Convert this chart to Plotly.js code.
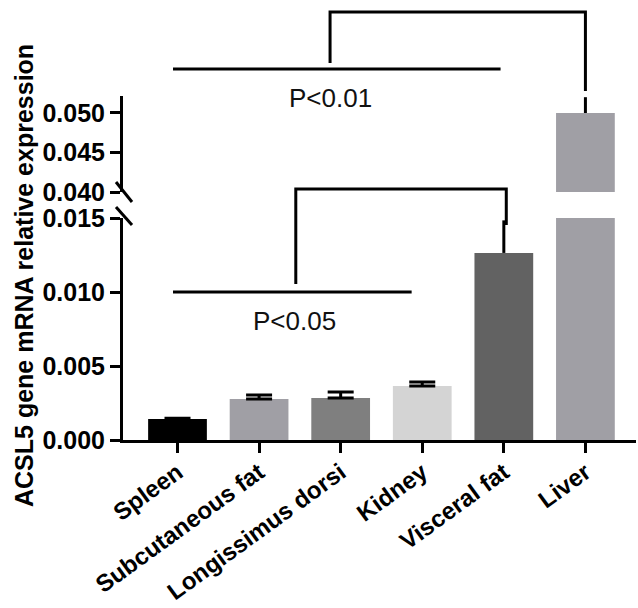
<!DOCTYPE html>
<html>
<head>
<meta charset="utf-8">
<script src="https://cdn.plot.ly/plotly-3.0.1.min.js"></script>
<style>html,body{margin:0;padding:0;background:#fff;}#chart{width:638px;height:608px;}</style>
</head>
<body>
<div id="chart"></div>
<script>
// ---- data ----
var categories = ['Spleen', 'Subcutaneous fat', 'Longissimus dorsi', 'Kidney', 'Visceral fat', 'Liver'];
var means = [0.00142, 0.00277, 0.00284, 0.00365, 0.01264, 0.0500];
var sems = [0.00005, 0.00027, 0.00040, 0.00027, 0.0022, 0.0020];
var colors = ['#000000', '#a09fa5', '#7f7f7f', '#d4d4d4', '#626262', '#a09fa5'];
var lowerTicks = [0, 0.005, 0.010, 0.015];
var upperTicks = [0.040, 0.045, 0.050];
var pLabels = ['P<0.01', 'P<0.05'];
var yTitle = 'ACSL5 gene mRNA relative expression';

// ---- layout helpers ----
var W = 638, H = 608, mL = 123, mR = 2, mT = 10, mB = 168;
var plotH = H - mT - mB, plotW = W - mL - mR;
function py(p) { return (H - mB - p) / plotH; }      // pixel y -> paper
function px(p) { return (p - mL) / plotW; }          // pixel x -> paper

var font = 'Arial, "Liberation Sans", Helvetica, sans-serif';

function barTrace(idx, yaxis, capWidth) {
  return {
    type: 'bar',
    x: idx.map(function (i) { return categories[i]; }),
    y: idx.map(function (i) { return means[i]; }),
    marker: { color: idx.map(function (i) { return colors[i]; }), line: { width: 0 } },
    width: 0.72,
    yaxis: yaxis,
    error_y: {
      type: 'data', symmetric: false,
      array: idx.map(function (i) { return sems[i]; }),
      arrayminus: idx.map(function () { return 0; }),
      color: '#000', thickness: 3, width: capWidth
    },
    hoverinfo: 'x+y',
    showlegend: false
  };
}

var data = [
  barTrace([0, 1, 2, 3], 'y', 13),
  barTrace([4, 5], 'y', 0),
  barTrace([5], 'y2', 0)
];

var blk = { color: '#000', width: 3 };
var shapes = [
  // P<0.01 bracket
  { type: 'line', xref: 'x', yref: 'paper', x0: -0.055, x1: 3.96, y0: py(69), y1: py(69), line: blk },
  { type: 'path', xref: 'x', yref: 'paper',
    path: 'M 1.87,' + py(63) + ' L 1.87,' + py(12) + ' L 5.0,' + py(12) + ' L 5.0,' + py(91), line: blk },
  // P<0.05 bracket
  { type: 'line', xref: 'x', yref: 'paper', x0: -0.055, x1: 2.87, y0: py(292), y1: py(292), line: blk },
  { type: 'path', xref: 'x', yref: 'paper',
    path: 'M 1.45,' + py(284) + ' L 1.45,' + py(189) + ' L 4.03,' + py(189) + ' L 4.03,' + py(225), line: blk },
  // axis break marks
  { type: 'line', xref: 'paper', yref: 'paper', x0: px(116), x1: px(132), y0: py(182), y1: py(202), line: blk },
  { type: 'line', xref: 'paper', yref: 'paper', x0: px(116), x1: px(132), y0: py(207), y1: py(225), line: blk }
];

var annotations = [
  { xref: 'x', yref: 'paper', x: 1.87, y: py(98), xanchor: 'center', yanchor: 'middle',
    text: pLabels[0], showarrow: false, font: { family: font, size: 26, color: '#111' } },
  { xref: 'x', yref: 'paper', x: 1.43, y: py(321), xanchor: 'center', yanchor: 'middle',
    text: pLabels[1], showarrow: false, font: { family: font, size: 26, color: '#111' } },
  { xref: 'paper', yref: 'paper', x: px(24), y: py(276), xanchor: 'center', yanchor: 'middle',
    text: yTitle, showarrow: false, textangle: -90,
    font: { family: font, size: 25, color: '#000', weight: 'bold' } }
];

var tickFont = { family: font, size: 25, color: '#000', weight: 'bold' };
var xTickFont = { family: font, size: 24, color: '#000', weight: 'bold' };

var layout = {
  width: W, height: H,
  margin: { l: mL, r: mR, t: mT, b: mB, pad: 0 },
  paper_bgcolor: '#fff', plot_bgcolor: '#fff',
  barmode: 'overlay',
  xaxis: {
    type: 'category', range: [-0.668, 5.62],
    showline: true, linecolor: '#000', linewidth: 3,
    ticks: 'outside', ticklen: 10, tickwidth: 3, tickcolor: '#000',
    tickangle: -36, tickfont: xTickFont, ticklabelstandoff: -4,
    showgrid: false, zeroline: false, anchor: 'y'
  },
  yaxis: {
    domain: [0, py(218)], range: [0, 0.015],
    tickvals: lowerTicks, tickformat: '.3f',
    showline: true, linecolor: '#000', linewidth: 3,
    ticks: 'outside', ticklen: 10, tickwidth: 3, tickcolor: '#000',
    tickfont: tickFont, showgrid: false, zeroline: false, anchor: 'x'
  },
  yaxis2: {
    domain: [py(192), py(96)], range: [0.040, 0.05215],
    tickvals: upperTicks, tickformat: '.3f',
    showline: true, linecolor: '#000', linewidth: 3,
    ticks: 'outside', ticklen: 10, tickwidth: 3, tickcolor: '#000',
    tickfont: tickFont, showgrid: false, zeroline: false, anchor: 'x'
  },
  shapes: shapes,
  annotations: annotations
};

Plotly.newPlot('chart', data, layout, { displayModeBar: false, staticPlot: true });
</script>
</body>
</html>
